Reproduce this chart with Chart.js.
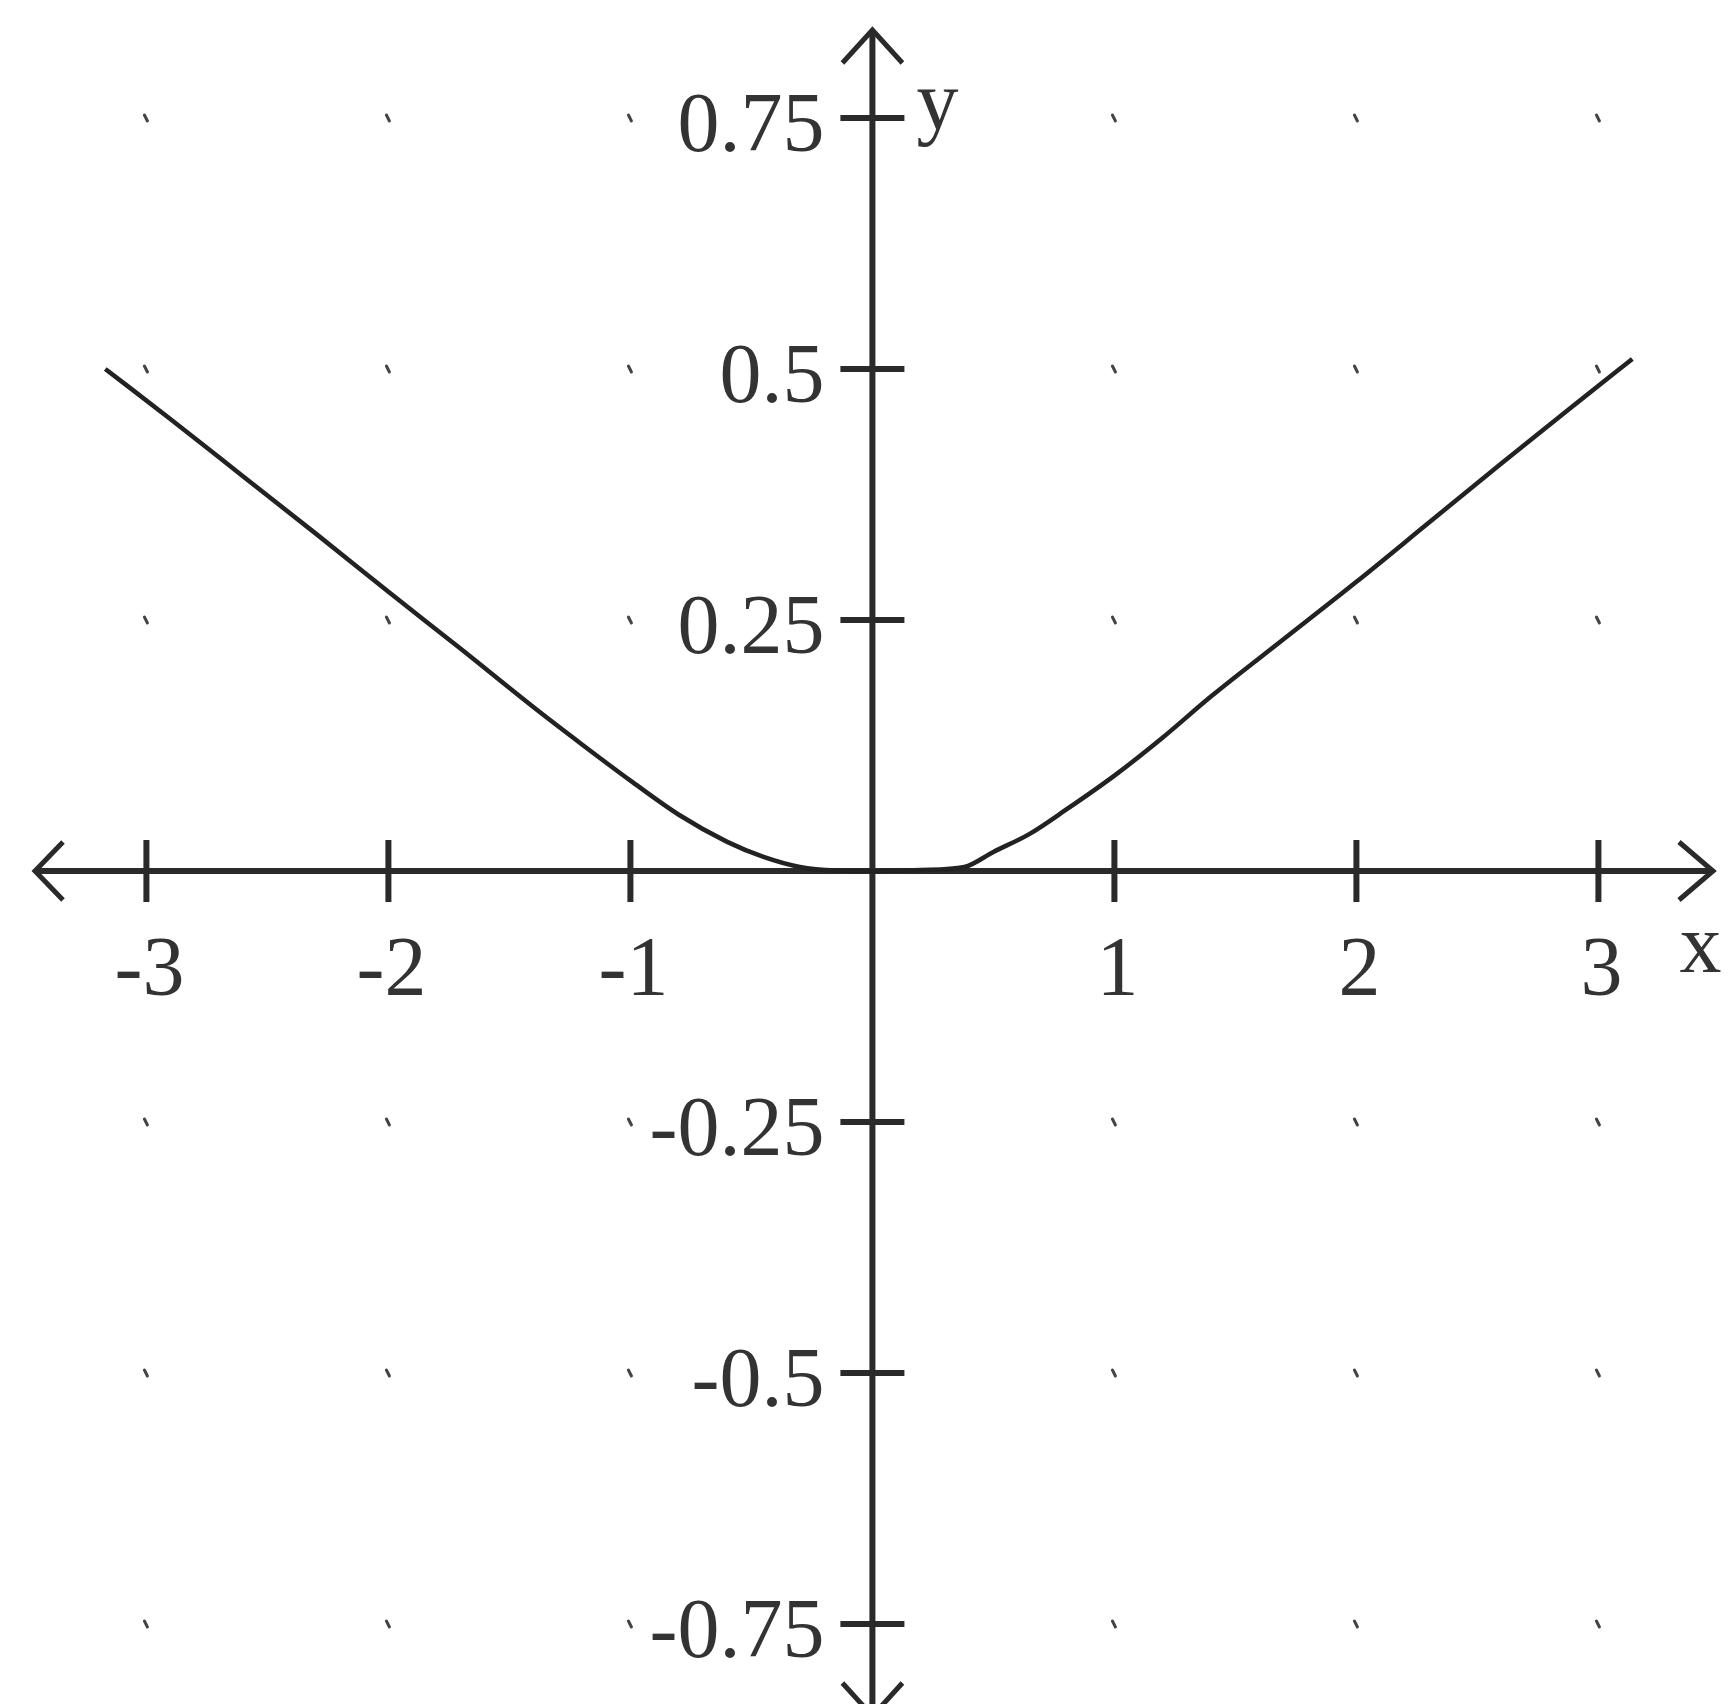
<!DOCTYPE html>
<html>
<head>
<meta charset="utf-8">
<title>y(x)</title>
<script src="https://cdn.jsdelivr.net/npm/chart.js@4.4.1/dist/chart.umd.min.js"></script>
<style>
  html, body { margin: 0; padding: 0; background: #fff; }
  #wrap { width: 1732px; height: 1704px; }
</style>
</head>
<body>
<div id="wrap"><canvas id="graph"></canvas></div>
<script>
// sampled curve
const curveX = [-3.17, -2.9, -2.6, -2.3, -2.0, -1.7, -1.4, -1.2, -1.0, -0.8, -0.6, -0.45, -0.3, -0.15, 0, 0.2, 0.38, 0.5, 0.65, 0.8, 1.0, 1.2, 1.4, 1.7, 2.0, 2.3, 2.6, 2.9, 3.14];
const curveY = [0.500, 0.450, 0.393, 0.336, 0.278, 0.221, 0.163, 0.126, 0.090, 0.056, 0.029, 0.014, 0.004, 0.0005, 0, 0.001, 0.004, 0.019, 0.037, 0.061, 0.095, 0.133, 0.174, 0.231, 0.288, 0.347, 0.406, 0.464, 0.510];

// axis ticks and labels
const xTicks = [-3, -2, -1, 1, 2, 3];
const xTickLabels = ['-3', '-2', '-1', '1', '2', '3'];
const yTicks = [0.75, 0.5, 0.25, -0.25, -0.5, -0.75];
const yTickLabels = ['0.75', '0.5', '0.25', '-0.25', '-0.5', '-0.75'];

// visible window
const xRange = [-3.605, 3.552];
const yRange = [-0.8297, 0.8675];

const INK = '#2a2a2a';
const TEXT = '#333';
const FONT = "84px 'Liberation Serif', 'Times New Roman', serif";

// axes through the origin, arrows, ticks, dots and labels
const centerAxes = {
  id: 'centerAxes',
  beforeDatasetsDraw(chart) {
    const { ctx, chartArea: area, scales: { x, y } } = chart;
    const x0 = x.getPixelForValue(0);
    const y0 = y.getPixelForValue(0);
    ctx.save();

    // little dots on the grid points
    ctx.strokeStyle = '#444';
    ctx.lineWidth = 3;
    ctx.lineCap = 'round';
    xTicks.forEach(xv => {
      yTicks.forEach(yv => {
        const px = x.getPixelForValue(xv);
        const py = y.getPixelForValue(yv);
        ctx.beginPath();
        ctx.moveTo(px - 2, py - 3);
        ctx.lineTo(px + 1, py + 3);
        ctx.stroke();
      });
    });

    ctx.strokeStyle = INK;
    ctx.lineWidth = 6;
    ctx.lineCap = 'butt';
    const left = area.left + 35, right = area.right - 19;
    const top = area.top + 30, bottom = area.bottom + 12;

    ctx.beginPath();
    ctx.moveTo(left, y0); ctx.lineTo(right, y0);
    ctx.moveTo(x0, top); ctx.lineTo(x0, bottom);
    ctx.stroke();

    // open arrow heads
    ctx.lineWidth = 5;
    ctx.lineJoin = 'miter';
    ctx.beginPath();
    ctx.moveTo(left + 28, y0 - 29); ctx.lineTo(left, y0); ctx.lineTo(left + 28, y0 + 29);
    ctx.moveTo(right - 34, y0 - 29); ctx.lineTo(right, y0); ctx.lineTo(right - 34, y0 + 29);
    ctx.moveTo(x0 - 30, top + 33); ctx.lineTo(x0, top); ctx.lineTo(x0 + 30, top + 33);
    ctx.moveTo(x0 - 30, bottom - 33); ctx.lineTo(x0, bottom); ctx.lineTo(x0 + 30, bottom - 33);
    ctx.stroke();

    // tick marks cross the axis
    ctx.lineWidth = 6;
    ctx.beginPath();
    xTicks.forEach(xv => {
      const px = x.getPixelForValue(xv);
      ctx.moveTo(px, y0 - 31); ctx.lineTo(px, y0 + 31);
    });
    yTicks.forEach(yv => {
      const py = y.getPixelForValue(yv);
      ctx.moveTo(x0 - 32, py); ctx.lineTo(x0 + 32, py);
    });
    ctx.stroke();

    ctx.fillStyle = TEXT;
    ctx.font = FONT;
    ctx.textBaseline = 'alphabetic';
    ctx.textAlign = 'center';
    xTicks.forEach((xv, i) => {
      ctx.fillText(xTickLabels[i], x.getPixelForValue(xv) + 3, y0 + 124);
    });
    ctx.textAlign = 'right';
    yTicks.forEach((yv, i) => {
      ctx.fillText(yTickLabels[i], x0 - 48, y.getPixelForValue(yv) + 33);
    });

    // axis names
    ctx.textAlign = 'left';
    ctx.fillText('x', x.getPixelForValue(xTicks[xTicks.length - 1]) + 81, y0 + 101);
    ctx.fillText('y', x0 + 44, y.getPixelForValue(yTicks[0]) + 11);
    ctx.restore();
  }
};

new Chart(document.getElementById('graph'), {
  type: 'scatter',
  data: {
    datasets: [{
      data: curveX.map((v, i) => ({ x: v, y: curveY[i] })),
      showLine: true,
      borderColor: '#222',
      borderWidth: 4.5,
      pointRadius: 0,
      cubicInterpolationMode: 'monotone',
      clip: false
    }]
  },
  options: {
    responsive: true,
    maintainAspectRatio: false,
    devicePixelRatio: 1,
    animation: false,
    layout: { padding: 0 },
    events: [],
    plugins: { legend: { display: false }, tooltip: { enabled: false } },
    scales: {
      x: { type: 'linear', display: false, min: xRange[0], max: xRange[1] },
      y: { type: 'linear', display: false, min: yRange[0], max: yRange[1] }
    }
  },
  plugins: [centerAxes]
});
</script>
</body>
</html>
